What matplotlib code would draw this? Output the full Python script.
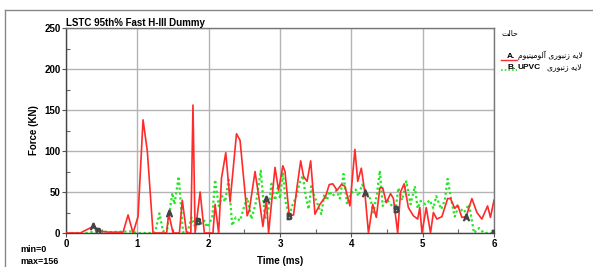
import numpy as np
import matplotlib
matplotlib.use("Agg")
import matplotlib.pyplot as plt
from matplotlib.lines import Line2D

# --- data ----------------------------------------------------------------
red_t = [0, 0.2, 0.38, 0.5, 0.6, 0.8, 0.87, 0.94, 1.01, 1.08,
         1.14, 1.22, 1.41, 1.44, 1.5, 1.59, 1.63, 1.69, 1.75, 1.78,
         1.81, 1.88, 1.94, 2.06, 2.09, 2.14, 2.18, 2.24, 2.3, 2.39,
         2.44, 2.54, 2.57, 2.65, 2.71, 2.76, 2.81, 2.84, 2.93, 2.98,
         3.04, 3.07, 3.13, 3.19, 3.24, 3.29, 3.33, 3.38, 3.43, 3.49,
         3.56, 3.61, 3.64, 3.69, 3.74, 3.8, 3.86, 3.91, 3.98, 4.05,
         4.09, 4.14, 4.19, 4.24, 4.3, 4.35, 4.4, 4.44, 4.49, 4.55,
         4.59, 4.65, 4.69, 4.74, 4.8, 4.87, 4.93, 4.96, 4.99, 5.05,
         5.11, 5.15, 5.2, 5.27, 5.35, 5.39, 5.45, 5.49, 5.55, 5.61,
         5.69, 5.76, 5.83, 5.91, 5.95, 6.0]
red_v = [0, 0, 8, 2, 1, 1, 22, 0, 20, 138,
         100, 0, 0, 24, 0, 0, 40, 0, 0, 156,
         0, 50, 0, 0, 35, 0, 67, 98, 38, 121,
         113, 21, 28, 75, 40, 8, 41, 0, 80, 52,
         82, 75, 21, 22, 57, 88, 69, 63, 88, 23,
         35, 41, 45, 59, 60, 52, 59, 57, 33, 102,
         63, 79, 49, 0, 35, 19, 55, 55, 37, 48,
         42, 0, 50, 60, 31, 21, 17, 31, 0, 31,
         0, 25, 17, 20, 42, 42, 30, 34, 19, 20,
         42, 25, 17, 33, 19, 40]

green_t = [0, 0.3, 0.45, 0.6, 0.9, 1.0, 1.2, 1.25, 1.31, 1.36,
           1.42, 1.49, 1.52, 1.58, 1.64, 1.7, 1.76, 1.8, 1.85, 1.91,
           1.94, 1.98, 2.05, 2.09, 2.14, 2.19, 2.23, 2.28, 2.33, 2.38,
           2.44, 2.5, 2.54, 2.6, 2.67, 2.73, 2.79, 2.84, 2.88, 2.93,
           2.97, 3.0, 3.04, 3.08, 3.13, 3.17, 3.23, 3.27, 3.32, 3.36,
           3.4, 3.44, 3.48, 3.51, 3.55, 3.58, 3.62, 3.66, 3.69, 3.74,
           3.79, 3.84, 3.89, 3.94, 3.99, 4.06, 4.1, 4.15, 4.21, 4.27,
           4.31, 4.36, 4.4, 4.44, 4.5, 4.55, 4.62, 4.66, 4.71, 4.77,
           4.83, 4.89, 4.93, 4.97, 5.04, 5.1, 5.15, 5.19, 5.26, 5.31,
           5.35, 5.4, 5.45, 5.5, 5.58, 5.65, 5.72, 5.79, 5.86, 6.0]
green_v = [0, 0, 3, 1, 2, 0, 0, 1, 24, 2,
           5, 49, 35, 69, 1, 0, 19, 9, 15, 11,
           15, 7, 19, 65, 33, 45, 38, 65, 9, 19,
           15, 33, 43, 17, 40, 76, 17, 30, 60, 40,
           55, 42, 74, 37, 21, 33, 45, 60, 70, 45,
           29, 57, 45, 39, 30, 23, 47, 40, 51, 45,
           52, 42, 72, 35, 48, 53, 45, 59, 50, 41,
           25, 48, 76, 33, 41, 35, 29, 55, 40, 63,
           35, 57, 30, 39, 35, 40, 30, 45, 29, 40,
           66, 41, 20, 32, 25, 35, 0, 6, 0, 0]

# times where the letter labels sit on each curve
label_a_times = [0.43, 1.43, 2.8, 4.2, 5.62]
label_b_times = [0.47, 1.83, 3.15, 4.62, 6.0]

legend_title = "حالت"
name_a = "لایه زنبوری آلومینیوم"
name_b = "لایه زنبوری"


# --- tiny arabic shaper (matplotlib does no text shaping) ----------------
FORMS = {
    "ا": ("\uFE8D", "\uFE8E", None, None),
    "آ": ("\uFE81", "\uFE82", None, None),
    "ب": ("\uFE8F", "\uFE90", "\uFE91", "\uFE92"),
    "ت": ("\uFE95", "\uFE96", "\uFE97", "\uFE98"),
    "ح": ("\uFEA1", "\uFEA2", "\uFEA3", "\uFEA4"),
    "ر": ("\uFEAD", "\uFEAE", None, None),
    "ز": ("\uFEAF", "\uFEB0", None, None),
    "ل": ("\uFEDD", "\uFEDE", "\uFEDF", "\uFEE0"),
    "م": ("\uFEE1", "\uFEE2", "\uFEE3", "\uFEE4"),
    "ن": ("\uFEE5", "\uFEE6", "\uFEE7", "\uFEE8"),
    "ه": ("\uFEE9", "\uFEEA", "\uFEEB", "\uFEEC"),
    "و": ("\uFEED", "\uFEEE", None, None),
    "ی": ("\uFBFC", "\uFBFD", "\uFBFE", "\uFBFF"),
}
LAM_ALEF = {"ا": ("\uFEFB", "\uFEFC"), "آ": ("\uFEF5", "\uFEF6")}


def shape_word(w):
    out = []
    i = 0
    while i < len(w):
        ch = w[i]
        prev = w[i - 1] if i > 0 else None
        joins_prev = prev in FORMS and FORMS[prev][2] is not None
        if ch == "ل" and i + 1 < len(w) and w[i + 1] in LAM_ALEF:
            out.append(LAM_ALEF[w[i + 1]][1 if joins_prev else 0])
            i += 2
            continue
        nxt = w[i + 1] if i + 1 < len(w) else None
        f = FORMS[ch]
        joins_next = f[2] is not None and nxt in FORMS
        if joins_prev and joins_next:
            out.append(f[3])
        elif joins_prev:
            out.append(f[1])
        elif joins_next:
            out.append(f[2])
        else:
            out.append(f[0])
        i += 1
    return "".join(reversed(out))


def rtl(text):
    return " ".join(shape_word(w) for w in reversed(text.split()))


# --- plot ----------------------------------------------------------------
plt.rcParams['font.family'] = ['Liberation Sans', 'DejaVu Sans']

fig = plt.figure(figsize=(5.93, 2.67), dpi=100)
ax = fig.add_axes([66 / 593, 1 - 233 / 267, 428 / 593, 205 / 267])

idx_a = [int(np.argmin(np.abs(np.array(red_t) - t))) for t in label_a_times]
idx_b = [int(np.argmin(np.abs(np.array(green_t) - t))) for t in label_b_times]

ax.plot(red_t, red_v, color='#ff2a2a', lw=1.2, zorder=3)
ax.plot(green_t, green_v, color='#22e622', lw=1.6, ls=(0, (1, 1.2)), zorder=2)
ax.plot(red_t, red_v, ls='none', marker='$\\mathrm{A}$', markevery=idx_a,
        ms=4.5, color='#444444', zorder=4)
ax.plot(green_t, green_v, ls='none', marker='$\\mathrm{B}$', markevery=idx_b,
        ms=4.5, color='#444444', zorder=4)

ax.set_xlim(0, 6)
ax.set_ylim(0, 250)
ax.set_xticks(range(7))
ax.set_yticks(range(0, 251, 50))
ax.set_xticks(np.arange(0.5, 6, 1), minor=True)
ax.set_yticks(np.arange(25, 250, 50), minor=True)
ax.grid(True, which='major', color='#b4b4b4', lw=1)
ax.tick_params(which='major', direction='out', length=3, width=0.8,
               labelsize=7, pad=1, color='#555555')
ax.tick_params(which='minor', direction='in', length=3, width=0.8, color='#666666')
for lab in ax.get_xticklabels() + ax.get_yticklabels():
    lab.set_fontweight('bold')
for s in ax.spines.values():
    s.set_color('#777777')
    s.set_linewidth(1)
ax.spines['left'].set_color('#444444')
ax.spines['bottom'].set_color('#444444')

ax.set_xlabel('Time (ms)', fontsize=7, fontweight='bold', labelpad=5)
ax.set_ylabel('Force (KN)', fontsize=7, fontweight='bold', labelpad=4)
ax.set_title('LSTC 95th% Fast H-III Dummy', fontsize=7, fontweight='bold',
             loc='left', pad=1, x=0)

fig.text(20 / 593, 1 - 252 / 267, 'min=' + str(int(min(red_v))), fontsize=6.5,
         fontweight='bold', va='baseline')
fig.text(20 / 593, 1 - 264 / 267, 'max=' + str(int(max(red_v))),
         fontsize=6.5, fontweight='bold', va='baseline')

# outer panel frame
fig.add_artist(Line2D([5 / 593, 1.0], [1 - 10 / 267] * 2, color='#888888', lw=1))
fig.add_artist(Line2D([5 / 593] * 2, [0, 1 - 10 / 267], color='#888888', lw=1))

# legend on the right
fig.text(502 / 593, 1 - 36 / 267, rtl(legend_title), fontsize=5.5,
         family='DejaVu Sans', va='baseline')
fig.add_artist(Line2D([501 / 593, 517 / 593], [1 - 60 / 267] * 2,
                      color='#ff2a2a', lw=1))
fig.add_artist(Line2D([501 / 593, 517 / 593], [1 - 70 / 267] * 2,
                      color='#22e622', lw=1.2, ls=(0, (1, 1.2))))
fig.text(507 / 593, 1 - 58 / 267, 'A.', fontsize=6, fontweight='bold', va='baseline')
fig.text(507 / 593, 1 - 69 / 267, 'B.', fontsize=6, fontweight='bold', va='baseline')
fig.text(518 / 593, 1 - 58 / 267, rtl(name_a), fontsize=5.5,
         family='DejaVu Sans', va='baseline')
fig.text(518 / 593, 1 - 69 / 267, 'UPVC', fontsize=6, fontweight='bold', va='baseline')
fig.text(547 / 593, 1 - 69 / 267, rtl(name_b), fontsize=5.5,
         family='DejaVu Sans', va='baseline')

fig.savefig('out.png', dpi=100)
